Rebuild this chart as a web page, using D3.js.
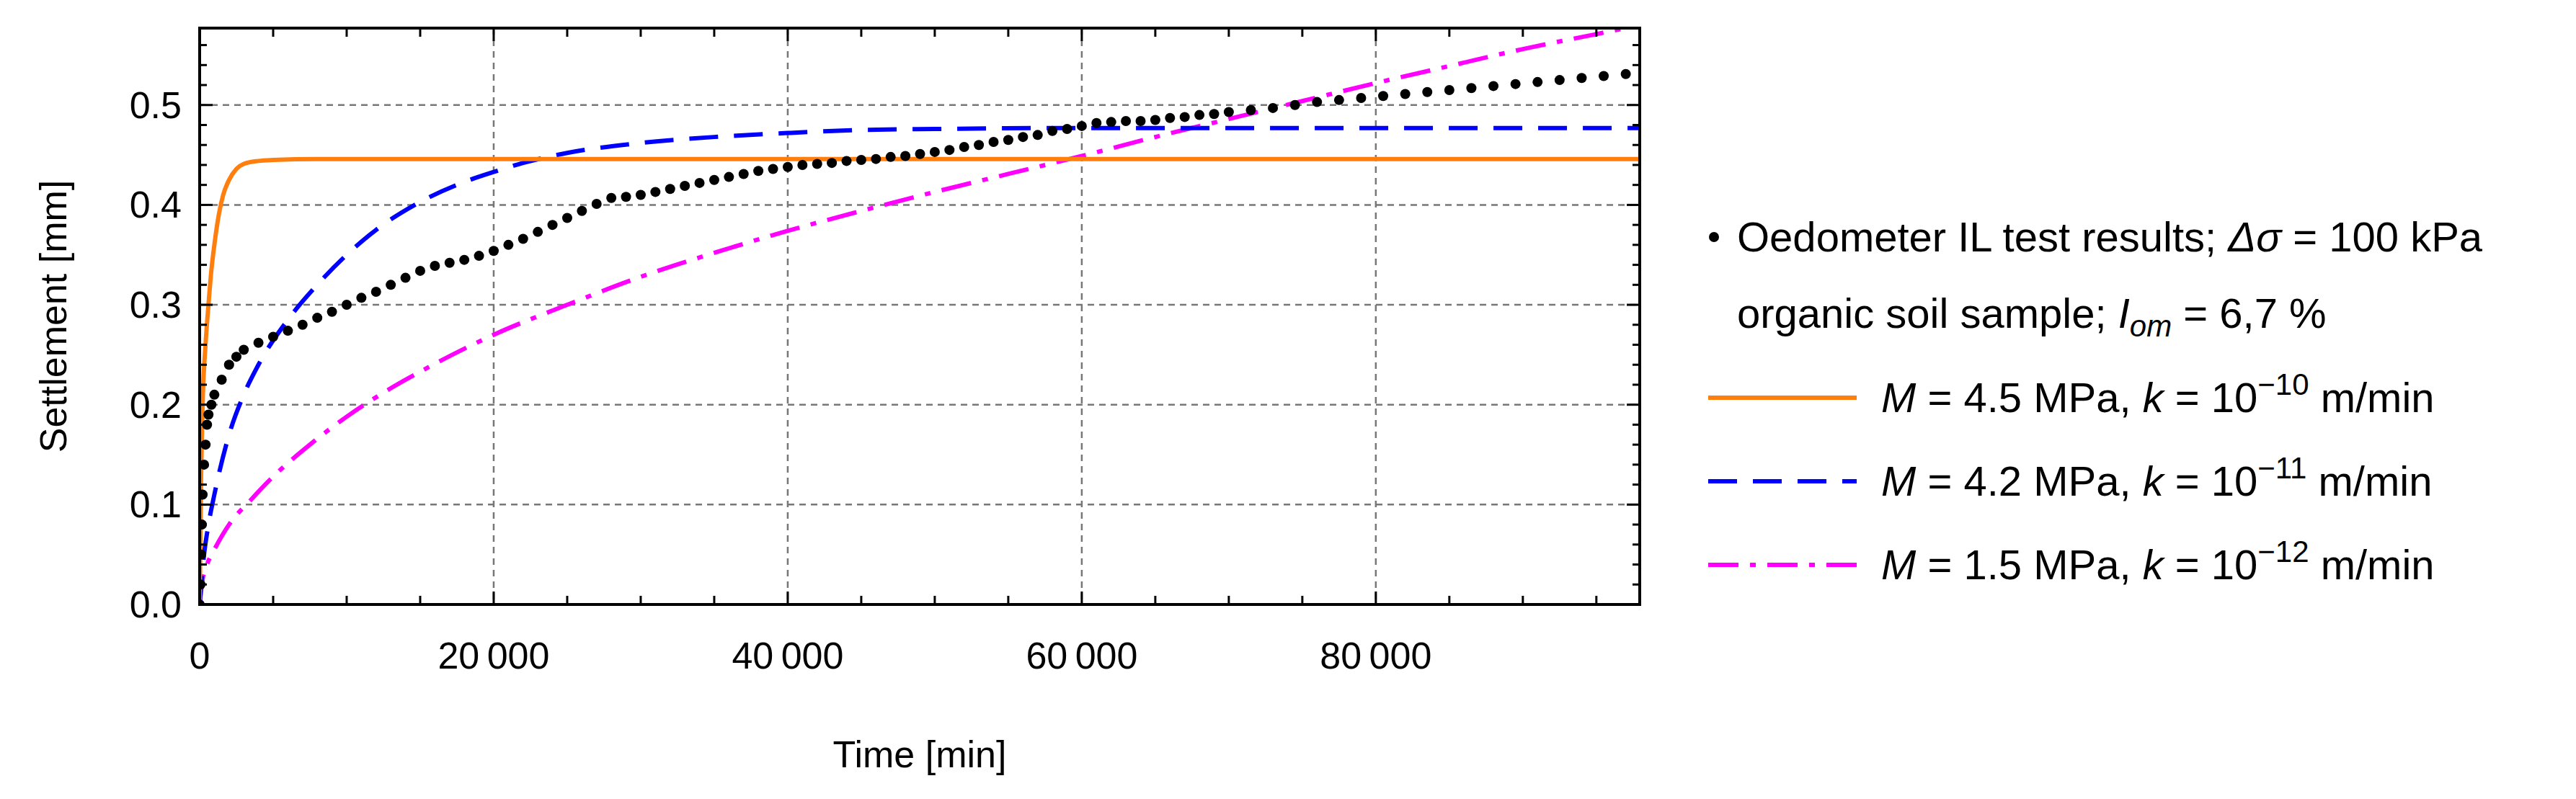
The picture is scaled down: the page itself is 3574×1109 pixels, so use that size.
<!DOCTYPE html><html><head><meta charset="utf-8"><script src="https://cdn.jsdelivr.net/npm/d3@7"></script>
<style>body{margin:0;background:#fff}text{font-family:"Liberation Sans",Arial,sans-serif}</style></head><body>
<svg id="c" width="3574" height="1109"></svg>
<script>
const xTicks=[0,20000,40000,60000,80000];
const yTicks=[0.0,0.1,0.2,0.3,0.4,0.5];
const testT=[0,50,100,150,200,300,400,500,600,800,1000,1500,2000,2500,3000,4000,5000,6000,7000,8000,9000,10000,11000,12000,13000,14000,15000,16000,17000,18000,19000,20000,21000,22000,23000,24000,25000,26000,27000,28000,29000,30000,31000,32000,33000,34000,35000,36000,37000,38000,39000,40000,41000,42000,43000,44000,45000,46000,47000,48000,49000,50000,51000,52000,53000,54000,55000,56000,57000,58000,59000,60000,61000,62000,63000,64000,65000,66000,67000,68000,69000,70000,71500,73000,74500,76000,77500,79000,80500,82000,83500,85000,86500,88000,89500,91000,92500,94000,95500,97000];
const testS=[0,0.02,0.05,0.08,0.11,0.14,0.16,0.18,0.19,0.2,0.21,0.225,0.24,0.248,0.255,0.262,0.268,0.274,0.28,0.287,0.293,0.3,0.307,0.313,0.32,0.327,0.334,0.339,0.342,0.345,0.349,0.354,0.36,0.366,0.373,0.38,0.387,0.394,0.401,0.407,0.408,0.41,0.413,0.416,0.419,0.422,0.425,0.428,0.431,0.434,0.436,0.438,0.44,0.441,0.442,0.444,0.445,0.446,0.448,0.449,0.451,0.453,0.455,0.458,0.46,0.463,0.465,0.468,0.47,0.474,0.476,0.479,0.482,0.483,0.484,0.484,0.485,0.487,0.488,0.49,0.491,0.493,0.495,0.497,0.5,0.503,0.505,0.507,0.509,0.511,0.513,0.515,0.517,0.519,0.521,0.523,0.525,0.527,0.529,0.531];
const m1T=[0,100,200,400,600,800,1000,1300,1600,2000,2500,3000,4000,5000,8000,98000];
const m1S=[0,0.13,0.2,0.26,0.3,0.335,0.36,0.39,0.41,0.425,0.436,0.441,0.444,0.445,0.446,0.446];
const m2T=[0,300,600,1000,2000,3000,4000,6000,8000,10000,12000,15000,18000,20000,22000,25000,30000,35000,40000,45000,50000,60000,70000,98000];
const m2S=[0,0.05,0.08,0.11,0.17,0.21,0.24,0.285,0.32,0.35,0.375,0.403,0.423,0.433,0.442,0.452,0.462,0.468,0.472,0.475,0.476,0.477,0.477,0.477];
const m3T=[0,200,500,1000,2000,3500,5000,7500,10000,12500,15000,20000,25000,30000,35000,40000,45000,50000,55000,60000,65000,70000,75000,80000,85000,90000,95000,98000];
const m3S=[0,0.025,0.04,0.055,0.08,0.105,0.128,0.16,0.188,0.212,0.233,0.27,0.3,0.328,0.352,0.374,0.394,0.413,0.431,0.449,0.468,0.486,0.504,0.522,0.539,0.556,0.571,0.58];
const legendLabels=["Oedometer IL test results; ","organic soil sample; "];

const svg=d3.select("#c");
const L=277,R=2275,T=39,B=839;
const x=d3.scaleLinear().domain([0,97950]).range([L,R]);
const y=d3.scaleLinear().domain([0,0.577]).range([B,T]);
const g=svg.append("g");
g.selectAll(".gx").data(xTicks.slice(1)).join("line").attr("x1",d=>x(d)).attr("x2",d=>x(d)).attr("y1",T).attr("y2",B).attr("stroke","#777").attr("stroke-width",2.5).attr("stroke-dasharray","9,7");
g.selectAll(".gy").data(yTicks.slice(1)).join("line").attr("y1",d=>y(d)).attr("y2",d=>y(d)).attr("x1",L).attr("x2",R).attr("stroke","#777").attr("stroke-width",2.5).attr("stroke-dasharray","9,7");
svg.append("clipPath").attr("id","cp").append("rect").attr("x",L).attr("y",T).attr("width",R-L).attr("height",B-T);
const line=d3.line().x(d=>x(d[0])).y(d=>y(d[1])).curve(d3.curveMonotoneX);
const cg=svg.append("g").attr("clip-path","url(#cp)");
cg.append("path").attr("d",line(m3T.map((t,i)=>[t,m3S[i]]))).attr("fill","none").attr("stroke","#ff00ff").attr("stroke-width",6).attr("stroke-dasharray","42,16,8,16");
cg.append("path").attr("d",line(m2T.map((t,i)=>[t,m2S[i]]))).attr("fill","none").attr("stroke","#0000ff").attr("stroke-width",6).attr("stroke-dasharray","40,22");
cg.append("path").attr("d",line(m1T.map((t,i)=>[t,m1S[i]]))).attr("fill","none").attr("stroke","#ff7f0e").attr("stroke-width",6);
cg.selectAll("circle").data(testT.map((t,i)=>[t,testS[i]])).join("circle").attr("cx",d=>x(d[0])).attr("cy",d=>y(d[1])).attr("r",7).attr("fill","#000");
svg.append("rect").attr("x",L).attr("y",T).attr("width",R-L).attr("height",B-T).attr("fill","none").attr("stroke","#000").attr("stroke-width",4);
const xt=d3.range(0,97951,5000), yt=d3.range(0,0.5771,0.02);
const tk=svg.append("g").attr("stroke","#000").attr("stroke-width",3);
xt.forEach(v=>{const len=v%20000===0?18:12;tk.append("line").attr("x1",x(v)).attr("x2",x(v)).attr("y1",B).attr("y2",B-len);tk.append("line").attr("x1",x(v)).attr("x2",x(v)).attr("y1",T).attr("y2",T+len);});
yt.forEach(v=>{const r=Math.round(v*100);const len=r%10===0?18:10;tk.append("line").attr("y1",y(v)).attr("y2",y(v)).attr("x1",L).attr("x2",L+len);tk.append("line").attr("y1",y(v)).attr("y2",y(v)).attr("x1",R).attr("x2",R-len);});
const fmt=d=>d===0?"0":d3.format(",")(d).replace(",","\u2009");
svg.selectAll(".xl").data(xTicks).join("text").attr("x",d=>x(d)).attr("y",928).attr("text-anchor","middle").attr("font-size",52).text(fmt);
svg.selectAll(".yl").data(yTicks).join("text").attr("x",252).attr("y",d=>y(d)+18).attr("text-anchor","end").attr("font-size",52).text(d=>d.toFixed(1));
svg.append("text").attr("x",(L+R)/2).attr("y",1065).attr("text-anchor","middle").attr("font-size",52).text("Time [min]");
svg.append("text").attr("transform",`translate(92,${(T+B)/2}) rotate(-90)`).attr("text-anchor","middle").attr("font-size",52).text("Settlement [mm]");
const lg=svg.append("g").attr("font-size",58);
lg.append("circle").attr("cx",2378).attr("cy",329).attr("r",7);
let t1=lg.append("text").attr("x",2410).attr("y",349);
t1.append("tspan").text(legendLabels[0]);t1.append("tspan").attr("font-style","italic").text("Δσ");t1.append("tspan").text(" = 100 kPa");
let t2=lg.append("text").attr("x",2410).attr("y",455);
t2.append("tspan").text(legendLabels[1]);t2.append("tspan").attr("font-style","italic").text("I");t2.append("tspan").attr("font-style","italic").attr("font-size",42).attr("dy",12).text("om");t2.append("tspan").attr("dy",-12).text(" = 6,7 %");
const items=[["#ff7f0e",null,"4.5","10"],["#0000ff","40,22","4.2","11"],["#ff00ff","42,16,8,16","1.5","12"]];
items.forEach((it,i)=>{const yy=552+i*116;
 lg.append("line").attr("x1",2370).attr("x2",2576).attr("y1",yy).attr("y2",yy).attr("stroke",it[0]).attr("stroke-width",6).attr("stroke-dasharray",it[1]);
 const t=lg.append("text").attr("x",2610).attr("y",yy+20);
 t.append("tspan").attr("font-style","italic").text("M");t.append("tspan").text(` = ${it[2]} MPa, `);t.append("tspan").attr("font-style","italic").text("k");t.append("tspan").text(" = 10");
 t.append("tspan").attr("font-size",42).attr("dy",-24).text("\u2212"+it[3]);t.append("tspan").attr("dy",24).text(" m/min");});
</script></body></html>
